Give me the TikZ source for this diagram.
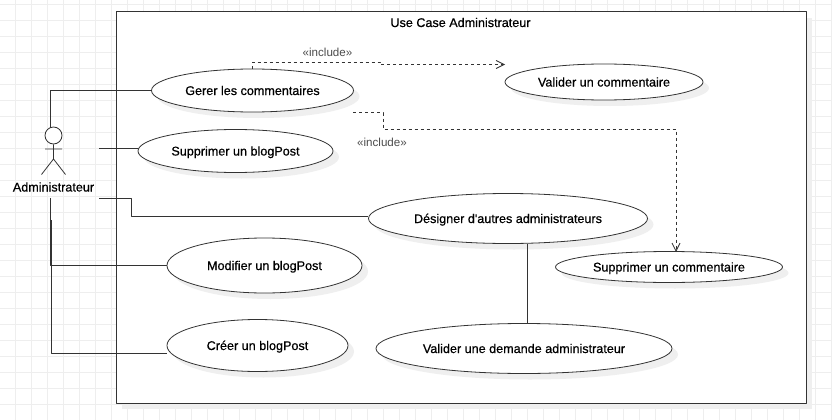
\documentclass[tikz,border=0pt]{standalone}
\usepackage{fontspec}
\setmainfont{Liberation Sans}
\newfontfamily\labelfont{Liberation Sans}[FakeBold=0.6]
\usetikzlibrary{shapes.geometric,shadows,arrows.meta}
\definecolor{gridgray}{HTML}{EEEEEE}
\definecolor{shadowgray}{HTML}{EFEFEF}
\definecolor{linegray}{HTML}{333333}
\tikzset{
 usetext/.style={font=\labelfont\fontsize{12.6}{14}\selectfont,text height=10.5pt,text depth=1.5pt,inner sep=0pt},
 usecase/.style={ellipse,draw=linegray,fill=white,line width=0.8pt,usetext,
  drop shadow={shadow xshift=6pt,shadow yshift=-6pt,fill=shadowgray,opacity=1}},
 assoc/.style={draw=linegray,line width=1pt},
 incl/.style={draw=linegray,line width=0.9pt,dash pattern=on 3pt off 3pt,-{Straight Barb[length=8pt,width=8pt,line width=0.8pt]}},
 tag/.style={text=black!70,font=\fontsize{11.6}{13}\selectfont,inner sep=0pt},
}
\begin{document}
\begin{tikzpicture}[x=1pt,y=-1pt,line join=bevel,]
 \useasboundingbox (0,0) rectangle (832,420);

 \foreach \i in {0,...,51} \draw [gridgray] (15.5+16*\i,0) -- (15.5+16*\i,420);
 \foreach \j in {0,...,26} \draw [gridgray] (0,4.5+16*\j) -- (832,4.5+16*\j);

 \node (node_system) at (461,207.5) [draw=linegray,fill=white,line width=1pt,minimum width=690pt,minimum height=391pt,
   drop shadow={shadow xshift=6pt,shadow yshift=-6pt,fill=shadowgray,opacity=1}] {};
 \node (node_title) at (460.5,22.5) [usetext] {Use Case Administrateur};

 \node (node_gerer) at (252.5,90.5) [usecase,minimum width=202pt,minimum height=43pt] {Gerer les commentaires};
 \node (node_supblog) at (235.5,151) [usecase,minimum width=195pt,minimum height=43pt] {Supprimer un blogPost};
 \node (node_valcom) at (604,82) [usecase,minimum width=198pt,minimum height=36pt] {Valider un commentaire};
 \node (node_designer) at (508,218.5) [usecase,minimum width=279pt,minimum height=50pt] {Désigner d'autres administrateurs};
 \node (node_supcom) at (669,267) [usecase,minimum width=227pt,minimum height=31pt] {Supprimer un commentaire};
 \node (node_modif) at (264.5,265.5) [usecase,minimum width=195pt,minimum height=55pt] {Modifier un blogPost};
 \node (node_creer) at (257.5,345.5) [usecase,minimum width=181pt,minimum height=52pt] {Créer un blogPost};
 \node (node_valdem) at (524,348.5) [usecase,minimum width=296pt,minimum height=50pt] {Valider une demande administrateur};

 % actor
 \node (node_head) at (53.5,135.5) [circle,draw=linegray,fill=white,line width=0.8pt,minimum size=17pt,inner sep=0pt] {};
 \coordinate (hip) at (53.5,159);
 \draw [draw=linegray,line width=0.8pt] (node_head.south) -- (hip) -- (41.5,174.5) (hip) -- (65.5,174.5) (45,149) -- (62,149);
 \node (node_admin) at (53.5,187) [usetext] {Administrateur};

 \coordinate (port_top) at (50,127);
 \coordinate (port_a) at (99,148);
 \coordinate (port_b) at (99,198);
 \coordinate (port_c) at (50,198);
 \coordinate (port_d) at (51,220);

 \draw [assoc] (port_top) |- (node_gerer.west);
 \draw [assoc] (port_a) -- (node_supblog.west |- port_a);
 \draw [assoc] (port_b) -- (131,198) -- (131,216) -- (node_designer.west |- 0,216);
 \draw [assoc] (port_c) |- (node_modif.west);
 \draw [assoc] (port_d) |- (node_creer.west |- 0,353);
 \draw [assoc] (node_valdem.north -| 527,0) -- (527,244);

 \draw [incl] (252.5,69) -- (252.5,62) -- (380,62) -- (380,64.5) -- (505,64.5);
 \draw [incl] (353,112.5) -- (383,112.5) -- (383,129) -- (676,129) -- (676,252);

 \node (node_inc_a) at (327.5,52) [tag] {«include»};
 \node (node_inc_b) at (382,142) [tag] {«include»};
\end{tikzpicture}
\end{document}
